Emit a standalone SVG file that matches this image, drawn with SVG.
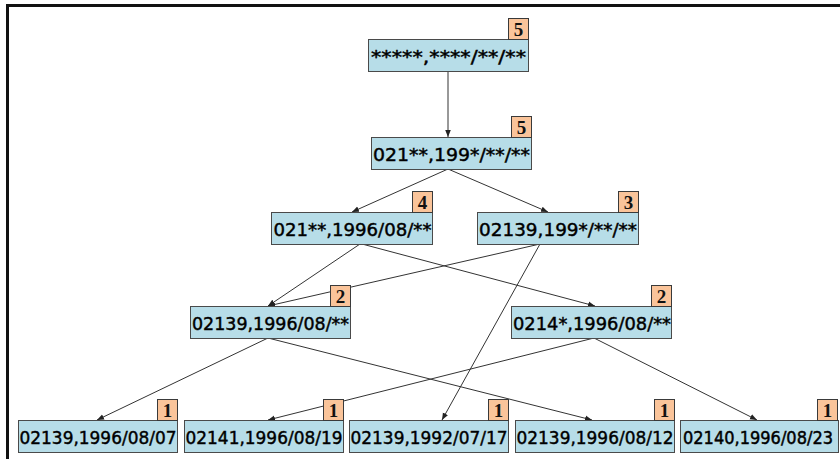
<svg xmlns="http://www.w3.org/2000/svg" width="840" height="459" viewBox="0 0 840 459">
  <style>
    .box { fill: #b7dde8; stroke: #4a4a4a; stroke-width: 1; }
    .badge { fill: #fac49a; stroke: #3a3a3a; stroke-width: 1; }
    .label { font-family: "DejaVu Sans", Tahoma, sans-serif; font-size: 18.5px; fill: #000; stroke: #000; stroke-width: 0.45; text-anchor: middle; }
    .count { font-family: "Liberation Serif", "Times New Roman", serif; font-size: 19px; font-weight: bold; fill: #111; text-anchor: middle; }
    .edge { stroke: #333; stroke-width: 1; fill: none; marker-end: url(#arrow); }
  </style>
  <defs>
    <marker id="arrow" viewBox="0 0 10 10" refX="10" refY="5" markerWidth="7" markerHeight="7" markerUnits="userSpaceOnUse" orient="auto">
      <path d="M0,1 L10,5 L0,9 Z" fill="#222"/>
    </marker>
  </defs>

  <rect width="840" height="459" fill="#fff"/>
  <!-- frame -->
  <path d="M7.5,459 V5.5 H840" fill="none" stroke="#111" stroke-width="3"/>

  <!-- connectors -->
  <g id="connectors">
    <line class="edge" x1="448" y1="71" x2="448" y2="137"/>
    <line class="edge" x1="448" y1="169" x2="352" y2="212"/>
    <line class="edge" x1="448" y1="169" x2="548" y2="212"/>
    <line class="edge" x1="360" y1="244" x2="268" y2="306"/>
    <line class="edge" x1="362" y1="244" x2="595" y2="306"/>
    <line class="edge" x1="540" y1="244" x2="268" y2="306"/>
    <line class="edge" x1="540" y1="244" x2="442" y2="420"/>
    <line class="edge" x1="268" y1="338" x2="97" y2="420"/>
    <line class="edge" x1="268" y1="338" x2="592" y2="420"/>
    <line class="edge" x1="594" y1="338" x2="268" y2="420"/>
    <line class="edge" x1="594" y1="338" x2="757" y2="420"/>
  </g>

  <!-- nodes -->
  <g id="n-root">
    <rect class="box" x="368.5" y="39.5" width="160" height="32"/>
    <text class="label" x="448.5" y="62.5" textLength="155" lengthAdjust="spacingAndGlyphs">*****,****/**/**</text>
    <rect class="badge" x="508.5" y="18.5" width="20" height="21"/>
    <text class="count" x="518.5" y="35.5">5</text>
  </g>
  <g id="n-021-199">
    <rect class="box" x="371.5" y="137.5" width="160" height="32"/>
    <text class="label" x="451.5" y="160.5" textLength="157" lengthAdjust="spacingAndGlyphs">021**,199*/**/**</text>
    <rect class="badge" x="511.5" y="116.5" width="20" height="21"/>
    <text class="count" x="521.5" y="133.5">5</text>
  </g>
  <g id="n-021-1996-08">
    <rect class="box" x="271.5" y="212.5" width="161" height="32"/>
    <text class="label" x="352.5" y="235.5" textLength="158" lengthAdjust="spacingAndGlyphs">021**,1996/08/**</text>
    <rect class="badge" x="412.5" y="191.5" width="20" height="21"/>
    <text class="count" x="422.5" y="208.5">4</text>
  </g>
  <g id="n-02139-199">
    <rect class="box" x="477.5" y="212.5" width="161" height="32"/>
    <text class="label" x="558" y="235.5" textLength="158" lengthAdjust="spacingAndGlyphs">02139,199*/**/**</text>
    <rect class="badge" x="618.5" y="191.5" width="20" height="21"/>
    <text class="count" x="628.5" y="208.5">3</text>
  </g>
  <g id="n-02139-1996-08">
    <rect class="box" x="190.5" y="306.5" width="160" height="32"/>
    <text class="label" x="270.5" y="329.5" textLength="157" lengthAdjust="spacingAndGlyphs">02139,1996/08/**</text>
    <rect class="badge" x="330.5" y="285.5" width="20" height="21"/>
    <text class="count" x="340.5" y="302.5">2</text>
  </g>
  <g id="n-0214-1996-08">
    <rect class="box" x="511.5" y="306.5" width="160" height="32"/>
    <text class="label" x="592" y="329.5" textLength="158" lengthAdjust="spacingAndGlyphs">0214*,1996/08/**</text>
    <rect class="badge" x="651.5" y="285.5" width="20" height="21"/>
    <text class="count" x="661.5" y="302.5">2</text>
  </g>
  <g id="leaf-02139-19960807">
    <rect class="box" x="18.5" y="420.5" width="159" height="32"/>
    <text class="label" x="98" y="443.5" textLength="157" lengthAdjust="spacingAndGlyphs">02139,1996/08/07</text>
    <rect class="badge" x="157.5" y="399.5" width="20" height="21"/>
    <text class="count" x="167.5" y="416.5">1</text>
  </g>
  <g id="leaf-02141-19960819">
    <rect class="box" x="184.5" y="420.5" width="159" height="32"/>
    <text class="label" x="264" y="443.5" textLength="157" lengthAdjust="spacingAndGlyphs">02141,1996/08/19</text>
    <rect class="badge" x="323.5" y="399.5" width="20" height="21"/>
    <text class="count" x="333.5" y="416.5">1</text>
  </g>
  <g id="leaf-02139-19920717">
    <rect class="box" x="349.5" y="420.5" width="159" height="32"/>
    <text class="label" x="429" y="443.5" textLength="157" lengthAdjust="spacingAndGlyphs">02139,1992/07/17</text>
    <rect class="badge" x="488.5" y="399.5" width="20" height="21"/>
    <text class="count" x="498.5" y="416.5">1</text>
  </g>
  <g id="leaf-02139-19960812">
    <rect class="box" x="515.5" y="420.5" width="159" height="32"/>
    <text class="label" x="595" y="443.5" textLength="157" lengthAdjust="spacingAndGlyphs">02139,1996/08/12</text>
    <rect class="badge" x="654.5" y="399.5" width="20" height="21"/>
    <text class="count" x="664.5" y="416.5">1</text>
  </g>
  <g id="leaf-02140-19960823">
    <rect class="box" x="680.5" y="420.5" width="158" height="32"/>
    <!-- set slightly smaller and stretched vertically so it stays inside the right edge -->
    <text class="label" transform="translate(758,443.5) scale(1,1.1)" x="0" y="0" style="font-size:16.5px" textLength="150" lengthAdjust="spacingAndGlyphs">02140,1996/08/23</text>
    <rect class="badge" x="817.5" y="399.5" width="20" height="21"/>
    <text class="count" x="827.5" y="416.5">1</text>
  </g>
</svg>
